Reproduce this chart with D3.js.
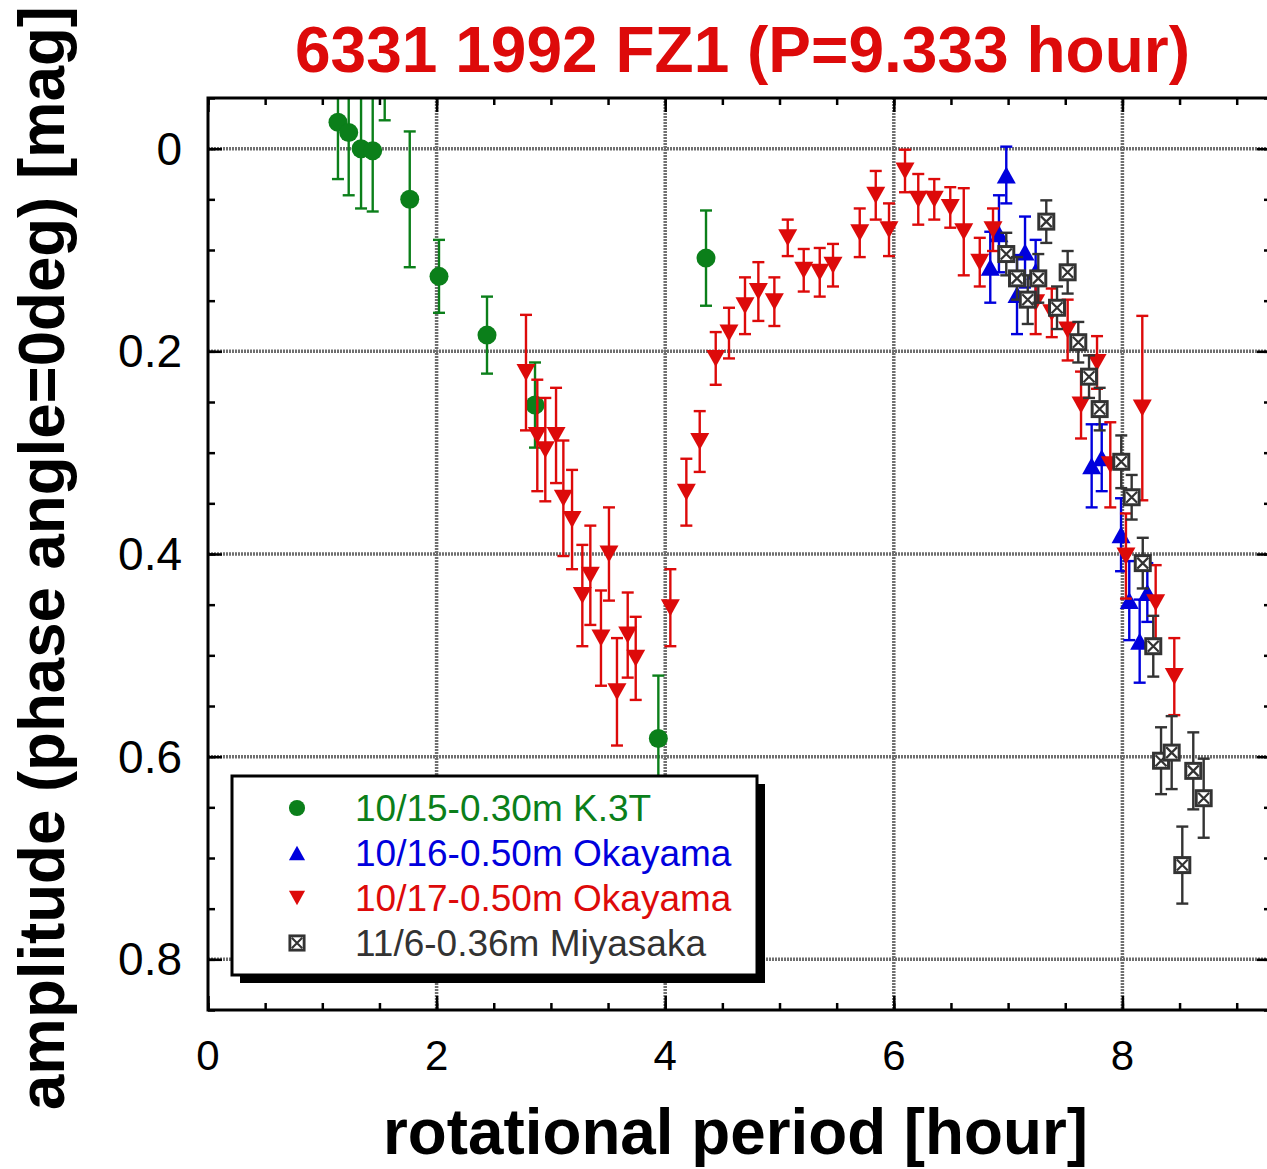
<!DOCTYPE html>
<html lang="en">
<head>
<meta charset="UTF-8">
<title>6331 1992 FZ1</title>
<script src="https://cdn.jsdelivr.net/npm/d3@7"></script>
<style>
  body { margin: 0; background: #fff; }
  text { font-family: "Liberation Sans", Arial, sans-serif; }
</style>
</head>
<body>
<div id="box"></div>
<script>
// 10/15 K.3T (green circles)
const k3tHour = [1.137, 1.231, 1.339, 1.441, 1.546, 1.765, 2.021, 2.441, 2.861, 3.94, 4.357];
const k3tAmp  = [-0.026, -0.016, 0.000, 0.002, -0.088, 0.050, 0.126, 0.184, 0.253, 0.582, 0.108];
const k3tErr  = [0.056, 0.062, 0.059, 0.060, 0.060, 0.067, 0.036, 0.038, 0.042, 0.062, 0.047];

// 10/16 Okayama (blue up triangles)
const oka16Hour = [6.844, 6.92, 6.984, 7.078, 7.148, 7.241, 7.731, 7.819, 7.988, 8.06, 8.151, 8.218];
const oka16Amp  = [0.117, 0.084, 0.026, 0.144, 0.102, 0.121, 0.313, 0.305, 0.381, 0.446, 0.486, 0.438];
const oka16Err  = [0.035, 0.038, 0.028, 0.039, 0.035, 0.031, 0.041, 0.033, 0.036, 0.039, 0.041, 0.029];

// 10/17 Okayama (red down triangles)
const oka17Hour = [2.782, 2.881, 2.951, 3.045, 3.109, 3.185, 3.275, 3.345, 3.438, 3.508, 3.578, 3.672, 3.742,
  4.045, 4.185, 4.302, 4.442, 4.558, 4.698, 4.815, 4.955, 5.072, 5.212, 5.352, 5.468, 5.702, 5.842, 5.958,
  6.098, 6.214, 6.354, 6.494, 6.612, 6.752, 6.868, 7.241, 7.382, 7.521, 7.638, 7.778, 7.894, 8.031, 8.174,
  8.291, 8.454];
const oka17Amp  = [0.221, 0.283, 0.297, 0.283, 0.345, 0.366, 0.441, 0.421, 0.483, 0.400, 0.536, 0.480, 0.503,
  0.453, 0.339, 0.289, 0.207, 0.182, 0.155, 0.141, 0.151, 0.088, 0.120, 0.122, 0.115, 0.083, 0.046, 0.080,
  0.022, 0.050, 0.050, 0.058, 0.082, 0.112, 0.080, 0.152, 0.162, 0.179, 0.253, 0.211, 0.312, 0.402, 0.256,
  0.448, 0.521];
const oka17Err  = [0.057, 0.055, 0.051, 0.047, 0.057, 0.049, 0.050, 0.049, 0.047, 0.046, 0.053, 0.042, 0.041,
  0.038, 0.033, 0.030, 0.026, 0.025, 0.028, 0.029, 0.024, 0.018, 0.021, 0.024, 0.021, 0.024, 0.024, 0.026,
  0.021, 0.025, 0.020, 0.020, 0.043, 0.024, 0.021, 0.031, 0.024, 0.030, 0.033, 0.026, 0.042, 0.042, 0.091,
  0.037, 0.038];

// 11/6 Miyasaka (gray crossed squares)
const miyaHour = [6.984, 7.078, 7.172, 7.264, 7.334, 7.428, 7.521, 7.614, 7.708, 7.801, 7.99, 8.081, 8.178,
  8.27, 8.338, 8.431, 8.524, 8.62, 8.711];
const miyaAmp  = [0.104, 0.128, 0.149, 0.128, 0.072, 0.157, 0.122, 0.191, 0.225, 0.257, 0.309, 0.344, 0.409,
  0.491, 0.604, 0.596, 0.707, 0.614, 0.641];
const miyaErr  = [0.021, 0.021, 0.024, 0.024, 0.021, 0.021, 0.021, 0.020, 0.021, 0.021, 0.026, 0.022, 0.025,
  0.030, 0.033, 0.036, 0.038, 0.038, 0.039];

const xTicks = [0, 2, 4, 6, 8];
const yTicks = [0, 0.2, 0.4, 0.6, 0.8];
const xTickLabels = ["0", "2", "4", "6", "8"];
const yTickLabels = ["0", "0.2", "0.4", "0.6", "0.8"];
const legendLabels = ["10/15-0.30m K.3T", "10/16-0.50m Okayama", "10/17-0.50m Okayama", "11/6-0.36m Miyasaka"];

const width = 1267, height = 1169;
const margin = {top: 98, right: -4, bottom: 159, left: 208};
const innerWidth = width - margin.left - margin.right;
const innerHeight = height - margin.top - margin.bottom;

const svg = d3.select("#box").append("svg").attr("width", width).attr("height", height);

const xScale = d3.scaleLinear().domain([0, 9.3]).range([0, innerWidth]);
const yScale = d3.scaleLinear().domain([-0.05, 0.85]).range([0, innerHeight]);

const g = svg.append("g").attr("transform", `translate(${margin.left},${margin.top})`);

svg.append("defs").append("clipPath").attr("id", "clip")
  .append("rect").attr("width", innerWidth).attr("height", innerHeight);

// grid (gray stippled lines)
const grid = g.append("g").attr("stroke", "#6f6f6f").attr("stroke-width", 3.5).attr("stroke-dasharray", "2,1");
xTicks.slice(1).forEach(t => {
  grid.append("line").attr("x1", xScale(t)).attr("x2", xScale(t)).attr("y1", 0).attr("y2", innerHeight);
});
yTicks.forEach(t => {
  grid.append("line").attr("y1", yScale(t)).attr("y2", yScale(t)).attr("x1", 0).attr("x2", innerWidth);
});

// markers
const TRI_W = 9.5, TRI_H = 17;
const upTri = `M0,${-TRI_H / 2}L${TRI_W},${TRI_H / 2}L${-TRI_W},${TRI_H / 2}Z`;
const downTri = `M0,${TRI_H / 2}L${TRI_W},${-TRI_H / 2}L${-TRI_W},${-TRI_H / 2}Z`;

function drawMarker(sel, kind, color) {
  if (kind === "circle") {
    sel.append("circle").attr("r", 9.5).attr("fill", color);
  } else if (kind === "up") {
    sel.append("path").attr("d", upTri).attr("fill", color);
  } else if (kind === "down") {
    sel.append("path").attr("d", downTri).attr("fill", color);
  } else {
    const s = 7.5;
    sel.append("rect").attr("x", -s).attr("y", -s).attr("width", 2 * s).attr("height", 2 * s)
      .attr("fill", "#fff").attr("stroke", color).attr("stroke-width", 3);
    sel.append("path").attr("d", `M${-s + 2},${-s + 2}L${s - 2},${s - 2}M${s - 2},${-s + 2}L${-s + 2},${s - 2}`)
      .attr("stroke", color).attr("stroke-width", 2.2);
  }
}

const series = [
  {hour: k3tHour, amp: k3tAmp, err: k3tErr, kind: "circle", color: "#0b7f1a"},
  {hour: oka16Hour, amp: oka16Amp, err: oka16Err, kind: "up", color: "#0000dd"},
  {hour: oka17Hour, amp: oka17Amp, err: oka17Err, kind: "down", color: "#dd0a0a"},
  {hour: miyaHour, amp: miyaAmp, err: miyaErr, kind: "box", color: "#333333"}
];

const plot = g.append("g").attr("clip-path", "url(#clip)");
series.forEach(s => {
  const sg = plot.append("g");
  s.hour.forEach((h, i) => {
    const cx = xScale(h), cy = yScale(s.amp[i]);
    const y0 = yScale(s.amp[i] - s.err[i]), y1 = yScale(s.amp[i] + s.err[i]);
    const eb = sg.append("g").attr("stroke", s.color).attr("stroke-width", 2.4);
    eb.append("line").attr("x1", cx).attr("x2", cx).attr("y1", y0).attr("y2", y1);
    eb.append("line").attr("x1", cx - 6).attr("x2", cx + 6).attr("y1", y0).attr("y2", y0);
    eb.append("line").attr("x1", cx - 6).attr("x2", cx + 6).attr("y1", y1).attr("y2", y1);
    drawMarker(sg.append("g").attr("transform", `translate(${cx},${cy})`), s.kind, s.color);
  });
});

// legend
const lg = g.append("g").attr("transform", `translate(${232 - margin.left},${776 - margin.top})`);
lg.append("rect").attr("x", 8).attr("y", 8).attr("width", 525).attr("height", 199).attr("fill", "#000");
lg.append("rect").attr("width", 525).attr("height", 199).attr("fill", "#fff").attr("stroke", "#000").attr("stroke-width", 3);
series.forEach((s, i) => {
  const ry = 32 + i * 45;
  const mg = lg.append("g").attr("transform", `translate(65,${ry}) scale(${s.kind === "box" ? 0.95 : 0.85})`);
  drawMarker(mg, s.kind, s.color);
  lg.append("text").attr("x", 123).attr("y", ry + 13)
    .attr("font-size", 37).attr("fill", s.color).text(legendLabels[i]);
});

// axes: ticks inward on all four sides, labels drawn separately
const xMinor = d3.range(0, 9.31, 0.5);
const yMinor = d3.range(-0.05, 0.851, 0.05).map(v => +v.toFixed(2));

function tickOnly(sel) {
  sel.select(".domain").remove();
  sel.selectAll(".tick text").remove();
  sel.selectAll(".tick line").attr("stroke", "#000").attr("stroke-width", 2.5);
}

g.append("g").attr("transform", `translate(0,${innerHeight})`)
  .call(d3.axisBottom(xScale).tickValues(xMinor).tickSize(-7)).call(tickOnly);
g.append("g").attr("transform", `translate(0,${innerHeight})`)
  .call(d3.axisBottom(xScale).tickValues(xTicks).tickSize(-14)).call(tickOnly);
g.append("g")
  .call(d3.axisTop(xScale).tickValues(xMinor).tickSize(-7)).call(tickOnly);
g.append("g")
  .call(d3.axisTop(xScale).tickValues(xTicks).tickSize(-14)).call(tickOnly);
g.append("g")
  .call(d3.axisLeft(yScale).tickValues(yMinor).tickSize(-7)).call(tickOnly);
g.append("g")
  .call(d3.axisLeft(yScale).tickValues(yTicks).tickSize(-14)).call(tickOnly);
g.append("g").attr("transform", `translate(${innerWidth},0)`)
  .call(d3.axisRight(yScale).tickValues(yMinor).tickSize(-7)).call(tickOnly);
g.append("g").attr("transform", `translate(${innerWidth},0)`)
  .call(d3.axisRight(yScale).tickValues(yTicks).tickSize(-14)).call(tickOnly);

xTicks.forEach((t, i) => {
  g.append("text").attr("x", xScale(t)).attr("y", innerHeight + 60)
    .attr("text-anchor", "middle").attr("font-size", 42).attr("fill", "#000")
    .text(xTickLabels[i]);
});
yTicks.forEach((t, i) => {
  g.append("text").attr("x", -26).attr("y", yScale(t) + 16)
    .attr("text-anchor", "end").attr("font-size", 46).attr("fill", "#000")
    .text(yTickLabels[i]);
});

// frame
g.append("rect").attr("width", innerWidth).attr("height", innerHeight)
  .attr("fill", "none").attr("stroke", "#000").attr("stroke-width", 3);

// titles
svg.append("text").attr("x", 295).attr("y", 72)
  .attr("font-size", 64).attr("font-weight", "bold").attr("fill", "#dd0a0a")
  .attr("textLength", 895).attr("lengthAdjust", "spacingAndGlyphs")
  .text("6331 1992 FZ1 (P=9.333 hour)");

svg.append("text").attr("x", 383).attr("y", 1154)
  .attr("font-size", 64).attr("font-weight", "bold").attr("fill", "#000")
  .attr("textLength", 705).attr("lengthAdjust", "spacingAndGlyphs")
  .text("rotational period [hour]");

svg.append("text").attr("transform", "translate(64,1110) rotate(-90)")
  .attr("font-size", 64).attr("font-weight", "bold").attr("fill", "#000")
  .attr("textLength", 1104).attr("lengthAdjust", "spacingAndGlyphs")
  .text("amplitude (phase angle=0deg) [mag]");
</script>
</body>
</html>
